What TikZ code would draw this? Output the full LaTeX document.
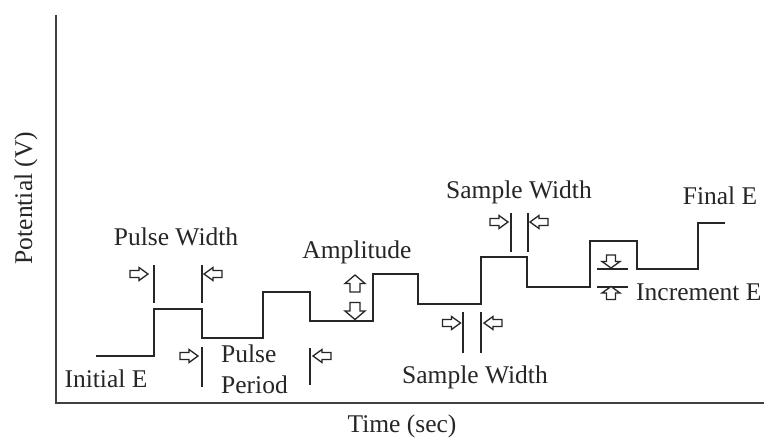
\documentclass[tikz,border=0pt]{standalone}
\usepackage{fontspec}
\setmainfont{Liberation Serif}
\begin{document}
\begin{tikzpicture}[x=1pt,y=-1pt,
  wave/.style={line width=1.4pt, black!85, line join=miter},
  axis/.style={line width=1.4pt, black!75},
  marker/.style={line width=1.2pt, black!85},
  lbl/.style={font=\fontsize{25.5}{29}\selectfont, inner sep=0pt, text=black!85, anchor=base},
  arr/.style={line width=1.3pt, black!85, fill=white, line join=miter},
  harrow/.pic={\draw[arr]
     (-9,-3.5)--(0,-3.5)--(0,-6.5)--(9,0)--(0,6.5)--(0,3.5)--(-9,3.5)--cycle;},
  varrow/.pic={\draw[arr]
     (-6.5,-4.5)--(0,-4.5)--(0,-9)--(6.5,0)--(0,9)--(0,4.5)--(-6.5,4.5)--cycle;},
  bigarrow/.pic={\draw[arr]
     (-8.5,-5)--(0,-5)--(0,-10)--(8.5,0)--(0,10)--(0,5)--(-8.5,5)--cycle;}]
\useasboundingbox (0,0) rectangle (768,444);
\fill[white] (0,0) rectangle (768,444);
% axes
\draw[axis] (56,15) -- (56,403) -- (764,403);
% waveform
\draw[wave] (96,356) -- (154,356) -- (154,309) -- (202,309) -- (202,338)
  -- (263,338) -- (263,292) -- (310,292) -- (310,321) -- (373,321) -- (373,274)
  -- (418,274) -- (418,304) -- (481,304) -- (481,257) -- (527,257) -- (527,287)
  -- (590,287) -- (590,241) -- (637,241) -- (637,269) -- (698,269) -- (698,223) -- (725,223);
% Pulse width markers
\draw[marker] (154,265) -- (154,303);
\draw[marker] (202,265) -- (202,303);
\pic at (139,274) {harrow};
\pic[rotate=180] at (213,274) {harrow};
% Pulse period markers
\draw[marker] (202,347) -- (202,387);
\draw[marker] (310,348) -- (310,385);
\pic at (189,356) {harrow};
\pic[rotate=180] at (322,356) {harrow};
% Amplitude
\pic[rotate=90] at (355,283.5) {bigarrow};
\pic[rotate=-90] at (355,311) {bigarrow};
% Sample width top
\draw[marker] (511,213) -- (511,252);
\draw[marker] (528,213) -- (528,252);
\pic at (499,222) {harrow};
\pic[rotate=180] at (539,222) {harrow};
% Sample width bottom
\draw[marker] (463,312) -- (463,353);
\draw[marker] (481,312) -- (481,353);
\pic at (451.5,323) {harrow};
\pic[rotate=180] at (493,323) {harrow};
% Increment E
\draw[marker] (597,269) -- (628,269);
\draw[marker] (597,287) -- (628,287);
\pic[rotate=-90] at (611,261.5) {varrow};
\pic[rotate=90] at (611,293) {varrow};
% labels
\node[lbl] (pw) at (176,245) {Pulse Width};
\node[lbl] (ie) at (106,387) {Initial E};
\node[lbl, anchor=base west] (pp1) at (221,362) {Pulse};
\node[lbl, anchor=base west] (pp2) at (221,393) {Period};
\node[lbl] (amp) at (357,258) {Amplitude};
\node[lbl] (sw1) at (519,198) {Sample Width};
\node[lbl] (sw2) at (475,383) {Sample Width};
\node[lbl] (fe) at (720,204) {Final E};
\node[lbl, anchor=base west] (inc) at (636,300) {Increment E};
\node[lbl, rotate=90] (pot) at (32,198) {Potential (V)};
\node[lbl] (time) at (402,432) {Time (sec)};
\end{tikzpicture}
\end{document}
